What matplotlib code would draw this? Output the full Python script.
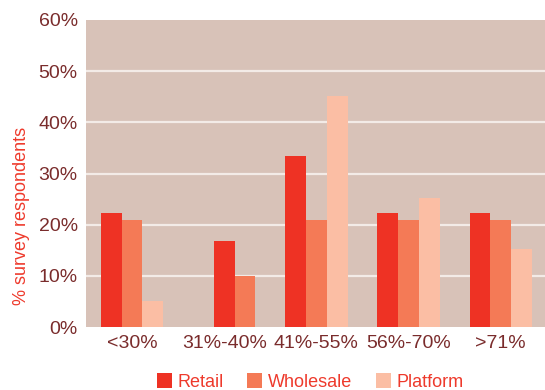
import numpy as np
import matplotlib
matplotlib.use("Agg")
import matplotlib.pyplot as plt
from matplotlib.patches import Patch

categories = ["<30%", "31%-40%", "41%-55%", "56%-70%", ">71%"]
retail = [22.3, 16.8, 33.4, 22.3, 22.3]
wholesale = [20.9, 10.0, 20.9, 20.9, 20.9]
platform = [5.1, np.nan, 45.2, 25.3, 15.2]
series_names = ["Retail", "Wholesale", "Platform"]
yticks = [0, 10, 20, 30, 40, 50, 60]

colors = ["#ee3224", "#f47a56", "#fbbea4"]
bg = "#d8c2b8"
tick_color = "#7a2c2c"
red_text = "#ee3a2c"

plt.rcParams['font.family'] = ['Liberation Sans', 'DejaVu Sans']

fig = plt.figure(figsize=(5.45, 3.9), dpi=100)
ax = fig.add_axes([86/545, 63/390, 1 - 86/545, (327-20)/390])
ax.set_facecolor(bg)

w = 0.225
x = np.arange(len(categories))
data = [retail, wholesale, platform]
for i in range(len(categories)):
    vals = [s[i] for s in data]
    present = [k for k, v in enumerate(vals) if not np.isnan(v)]
    if len(present) == 3:
        slots = [-1, 0, 1]
    else:
        slots = [0, 1]
    for slot, k in zip(slots, present):
        ax.bar(x[i] + slot * w, vals[k], width=w, color=colors[k], zorder=3,
               linewidth=0)

ax.set_xlim(-0.5, 4.48)
ax.set_ylim(0, 60)
ax.set_yticks(yticks)
ax.set_yticklabels([f"{t}%" for t in yticks])
ax.set_xticks(x)
ax.set_xticklabels(categories)
for t in yticks[1:-1]:
    ax.axhline(t, color="#f3ebe7", linewidth=1.6, zorder=1)
for s in ax.spines.values():
    s.set_visible(False)
ax.tick_params(axis='both', length=0, labelsize=14, colors=tick_color)
ax.tick_params(axis='y', pad=6)
ax.tick_params(axis='x', pad=6)
ax.set_ylabel("% survey respondents", color=red_text, fontsize=13)
ax.yaxis.set_label_coords((30 - 86) / 459, (327 - 216) / 307)

handles = [Patch(facecolor=c, edgecolor='none', label=n) for c, n in zip(colors, series_names)]
leg = fig.legend(handles=handles, loc='center', bbox_to_anchor=(310/545, 1 - 382/390),
                 ncol=3, frameon=False, fontsize=13, handlelength=0.85, handleheight=0.85,
                 handletextpad=0.3, columnspacing=1.3, borderpad=0)
for t in leg.get_texts():
    t.set_color(red_text)

fig.savefig("out.png", dpi=100)
